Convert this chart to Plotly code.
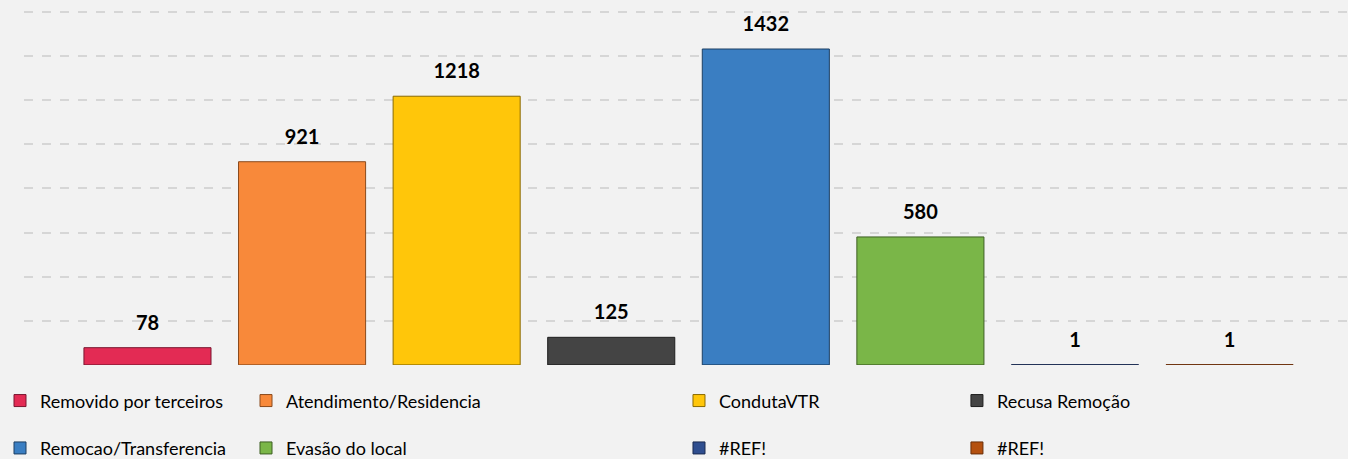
import plotly.graph_objects as go

series_names = ["Removido por terceiros", "Atendimento/Residencia", "CondutaVTR", "Recusa Remoção",
                "Remocao/Transferencia", "Evasão do local", "#REF!", "#REF!"]
series_values = [78, 921, 1218, 125, 1432, 580, 1, 1]
series_colors = ["#E32B54", "#F8893A", "#FFC60A", "#444444", "#3A7EC2", "#7AB648", "#2F4E8F", "#B4500F"]
line_colors = ["#7A1730", "#8A4A1C", "#8A6A00", "#1E1E1E", "#1C3F63", "#3D5F22", "#1A2B50", "#6A2E08"]
legend_groups = ["legend", "legend2", "legend3", "legend4", "legend", "legend2", "legend3", "legend4"]
category = [""]
grid_step = 200

BARGAP = 0.0695

fig = go.Figure()
for i, (name, val, col, lc, lg) in enumerate(zip(series_names, series_values, series_colors, line_colors, legend_groups)):
    fig.add_trace(go.Bar(
        x=category, y=[val], name=name,
        marker=dict(color=col, line=dict(color=lc, width=1)),
        legend=lg, legendgroup="g%d" % i, offsetgroup="o%d" % i,
    ))
for i, val in enumerate(series_values):
    fig.add_trace(go.Scatter(
        x=category, y=[val], mode="markers+text", text=["<b>%d</b>" % val],
        textposition="top center", showlegend=False, hoverinfo="skip",
        marker=dict(size=19, color="rgba(0,0,0,0)"),
        textfont=dict(family="Lato", size=20, color="#000000"),
        cliponaxis=False, offsetgroup="o%d" % i,
    ))

legend_common = dict(
    orientation="v", xref="container", yref="container", yanchor="top", xanchor="left",
    font=dict(family="Lato", size=18, color="#000000"),
    bgcolor="rgba(0,0,0,0)", itemwidth=30, tracegroupgap=21,
    itemclick=False,
)
fig.update_layout(
    width=1348, height=459,
    paper_bgcolor="#F2F2F2", plot_bgcolor="#F2F2F2",
    margin=dict(l=24, r=0, t=6, b=94, autoexpand=False),
    barmode="group", bargap=BARGAP, bargroupgap=0.178,
    scattermode="group", scattergap=BARGAP,
    showlegend=True,
    legend=dict(x=0.0, y=0.167, **legend_common),
    legend2=dict(x=0.1825, y=0.167, **legend_common),
    legend3=dict(x=0.5037, y=0.167, **legend_common),
    legend4=dict(x=0.7099, y=0.167, **legend_common),
    xaxis=dict(range=[-0.5, 0.4962], showticklabels=False, showgrid=False, zeroline=False,
               showline=False, ticks=""),
    yaxis=dict(range=[-0.5, 1627], tickmode="linear", tick0=0, dtick=grid_step,
               showticklabels=False, showgrid=True,
               gridcolor="#D6D6D6", griddash="dash", gridwidth=1.5, zeroline=False,
               showline=False, ticks=""),
)
fig.write_html("out.html", config={"displayModeBar": False},
               post_script="document.body.style.margin='0';")
